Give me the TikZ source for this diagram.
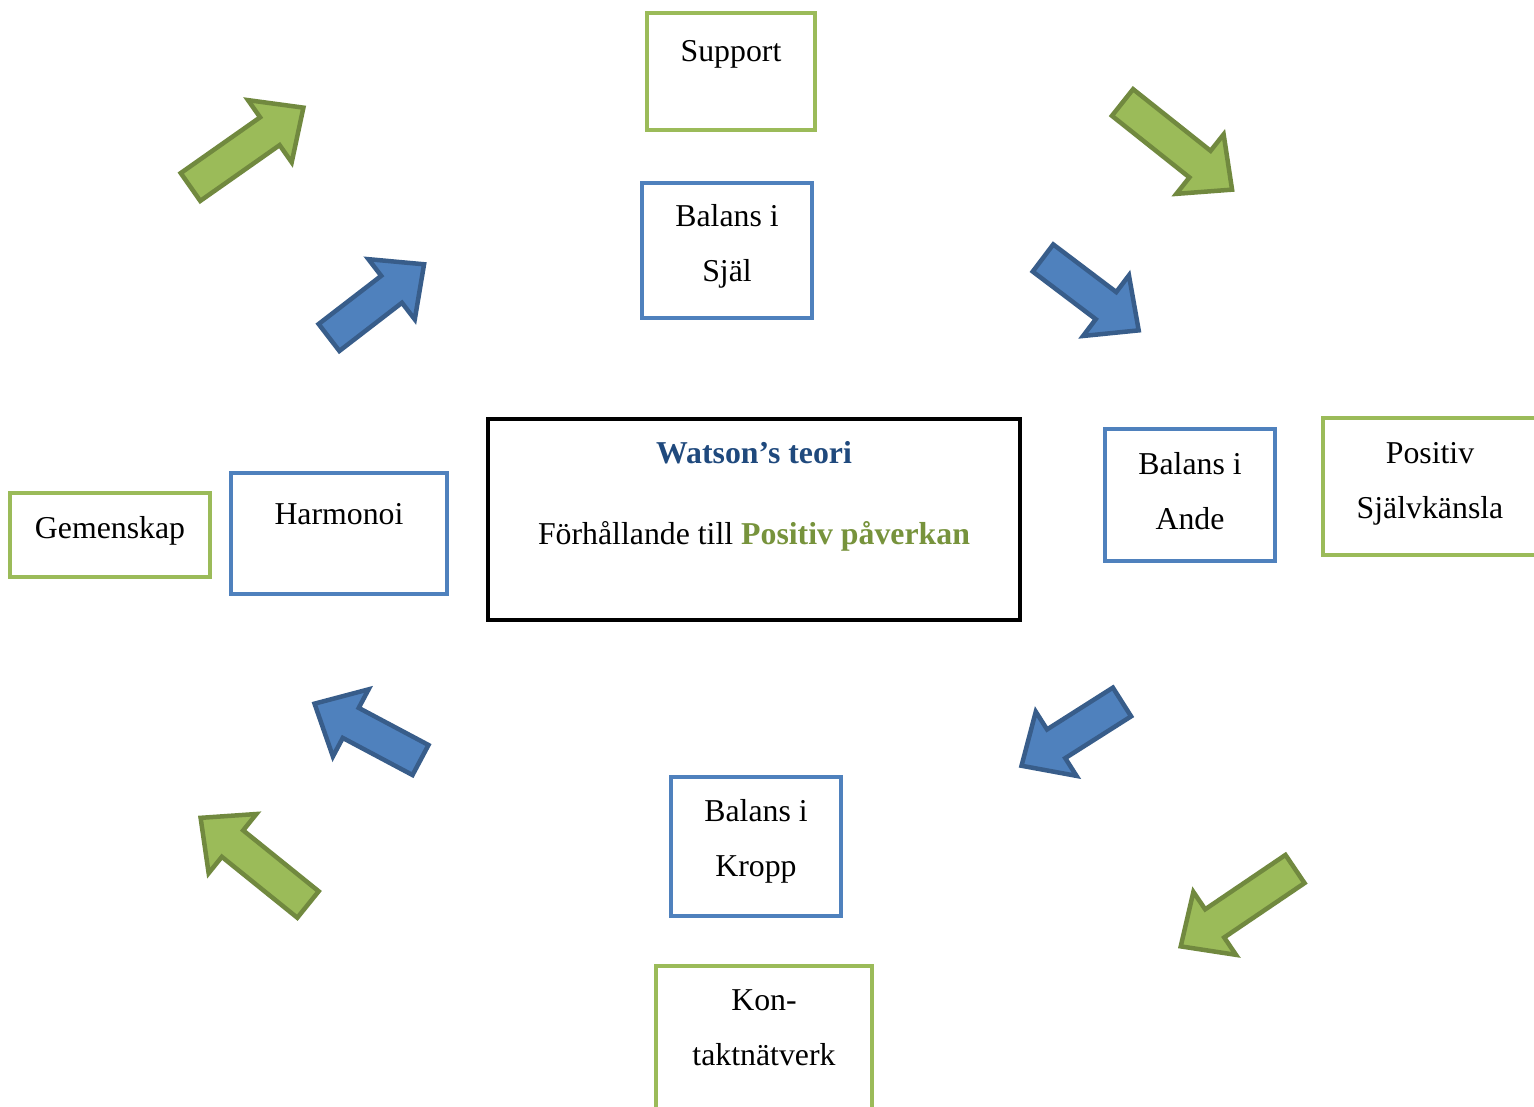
\documentclass[tikz,border=0pt]{standalone}
\usepackage{fontspec}
\setmainfont{Liberation Serif}
\definecolor{bboxc}{HTML}{4F81BD}
\definecolor{gboxc}{HTML}{9BBB59}
\definecolor{barrowline}{HTML}{385D8A}
\definecolor{garrowline}{HTML}{71893F}
\definecolor{titleblue}{HTML}{1F497D}
\definecolor{textgreen}{HTML}{77933C}
\newcommand\blockarrow[5]{%
  \begin{scope}[shift={(#2,#3)}, rotate=#4]
    \draw[#1] (0,-17) -- ({#5-41},-17) -- ({#5-41},-38) -- (#5,0) -- ({#5-41},38) -- ({#5-41},17) -- (0,17) -- cycle;
  \end{scope}}
\begin{document}
\begin{tikzpicture}[x=1pt,y=1pt,
  bbox/.style={draw=bboxc, line width=4.2pt, fill=white, inner sep=0pt},
  gbox/.style={draw=gboxc, line width=4.2pt, fill=white, inner sep=0pt},
  kbox/.style={draw=black, line width=4.5pt, fill=white, inner sep=0pt},
  lbl/.style={inner sep=0pt, align=center, font=\fontsize{31.8}{55}\selectfont},
  garrow/.style={fill=gboxc, draw=garrowline, line width=4.5pt, line join=miter},
  barrow/.style={fill=bboxc, draw=barrowline, line width=4.5pt, line join=miter}]
\useasboundingbox (0,0) rectangle (1534,-1107);
\clip (0,0) rectangle (1534,-1107);
\fill[white] (0,0) rectangle (1534,-1107);

% boxes
\node[gbox, minimum width=168pt, minimum height=117pt] (support) at (731,-71.5) {};
\node[bbox, minimum width=170pt, minimum height=135pt] (sjal) at (727,-250.5) {};
\node[kbox, minimum width=532pt, minimum height=201pt] (watson) at (754,-519.5) {};
\node[bbox, minimum width=170pt, minimum height=132pt] (ande) at (1190,-495) {};
\node[gbox, minimum width=214pt, minimum height=137pt] (sjalvk) at (1430,-486.5) {};
\node[gbox, minimum width=200pt, minimum height=84pt] (gemenskap) at (110,-535) {};
\node[bbox, minimum width=216pt, minimum height=121pt] (harmonoi) at (339,-533.5) {};
\node[bbox, minimum width=170pt, minimum height=139pt] (kropp) at (756,-846.5) {};
\node[gbox, minimum width=216pt, minimum height=154pt] (kontakt) at (764,-1043) {};

% labels
\node[lbl, anchor=base] (tsupport) at (731,-62) {Support};
\node[lbl, anchor=north] (tsjal) at (727,-204.5) {Balans i\\Själ};
\node[lbl, anchor=base, text=titleblue, font=\fontsize{31.8}{55}\selectfont\bfseries] (twatson) at (754,-463) {Watson’s teori};
\node[lbl, anchor=base] (tforh) at (754,-544) {Förhållande till \textcolor{textgreen}{\bfseries Positiv påverkan}};
\node[lbl, anchor=north] (tande) at (1190,-452.5) {Balans i\\Ande};
\node[lbl, anchor=north] (tsjalvk) at (1430,-442.5) {Positiv\\Självkänsla};
\node[lbl, anchor=base] (tgemenskap) at (110,-538) {Gemenskap};
\node[lbl, anchor=base] (tharmonoi) at (339,-524) {Harmonoi};
\node[lbl, anchor=north] (tkropp) at (756,-799.5) {Balans i\\Kropp};
\node[lbl, anchor=north] (tkontakt) at (764,-989.5) {Kon-\\taktnätverk};

% block arrows
\blockarrow{garrow}{190.5}{-187}{35.1}{138}
\blockarrow{barrow}{329}{-337.5}{37.6}{120}
\blockarrow{garrow}{1122.5}{-102.5}{-38.5}{140}
\blockarrow{barrow}{1043}{-258}{-37.1}{120}
\blockarrow{barrow}{420.5}{-760}{152}{120}
\blockarrow{garrow}{308}{-904.5}{141.1}{138}
\blockarrow{barrow}{1122}{-702}{212.4}{119}
\blockarrow{garrow}{1295}{-869}{214.1}{138}
\end{tikzpicture}
\end{document}
